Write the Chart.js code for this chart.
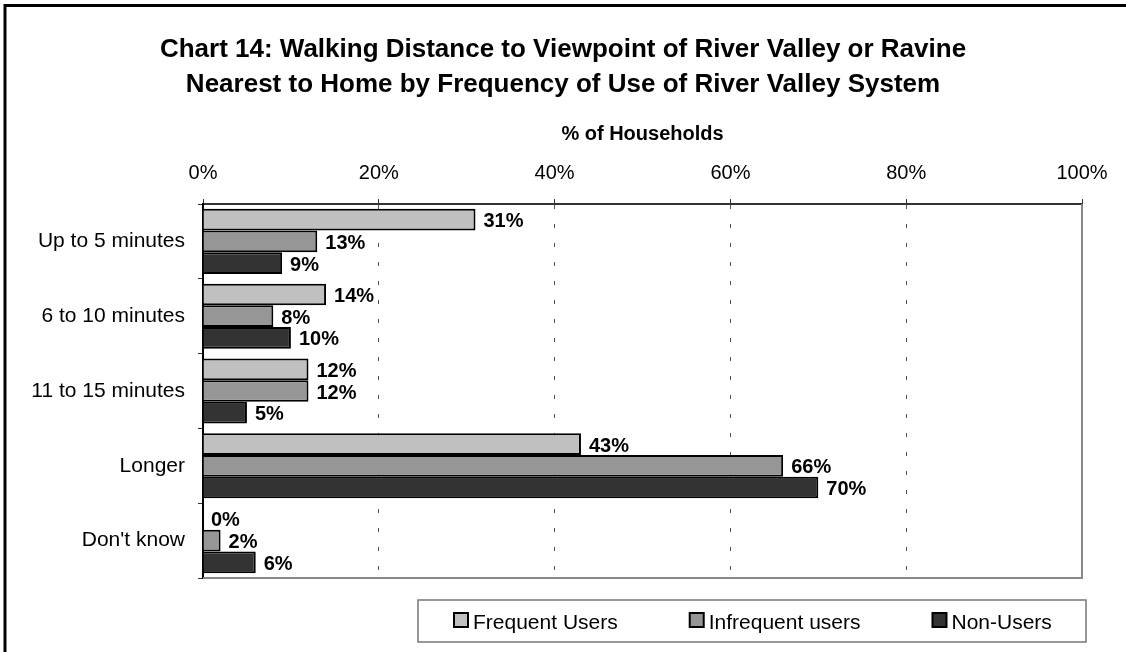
<!DOCTYPE html>
<html>
<head>
<meta charset="utf-8">
<script src="https://cdn.jsdelivr.net/npm/chart.js@4"></script>
<style>
  body { margin: 0; background: #fff; }
  #wrap { width: 1126px; height: 652px; position: relative; }
</style>
</head>
<body>
<div id="wrap"><canvas id="chart"></canvas></div>
<script>
const categories = ["Up to 5 minutes", "6 to 10 minutes", "11 to 15 minutes", "Longer", "Don't know"];
const frequentUsers = [31, 14, 12, 43, 0];
const infrequentUsers = [13, 8, 12, 66, 2];
const nonUsers = [9, 10, 5, 70, 6];
const seriesLabels = ["Frequent Users", "Infrequent users", "Non-Users"];
const titleLines = [
    "Chart 14: Walking Distance to Viewpoint of River Valley or Ravine",
    "Nearest to Home by Frequency of Use of River Valley System"
];
const axisTitle = "% of Households";

const FONT = 'Arial, "Liberation Sans", sans-serif';

// title, outer frame, plot frame
const decorPlugin = {
    id: "decor",
    beforeDraw(chart) {
        const ctx = chart.ctx;
        ctx.save();
        ctx.strokeStyle = "#000";
        ctx.lineWidth = 3;
        ctx.beginPath();
        ctx.moveTo(5, 652);
        ctx.lineTo(5, 5.5);
        ctx.lineTo(1126, 5.5);
        ctx.stroke();

        ctx.fillStyle = "#000";
        ctx.font = "bold 26px " + FONT;
        ctx.textAlign = "center";
        ctx.textBaseline = "alphabetic";
        ctx.fillText(titleLines[0], 563, 57);
        ctx.fillText(titleLines[1], 563, 92);
        ctx.restore();
    },
    beforeDatasetsDraw(chart) {
        const a = chart.chartArea;
        const ctx = chart.ctx;
        ctx.save();
        ctx.strokeStyle = "#888";
        ctx.lineWidth = 2;
        ctx.beginPath();
        ctx.moveTo(a.left, a.bottom);
        ctx.lineTo(a.right, a.bottom);
        ctx.lineTo(a.right, a.top);
        ctx.stroke();
        ctx.restore();
    }
};

// value labels to the right of each bar
const valueLabels = {
    id: "valueLabels",
    afterDatasetsDraw(chart) {
        const ctx = chart.ctx;
        ctx.save();
        ctx.fillStyle = "#000";
        ctx.font = "bold 20px " + FONT;
        ctx.textAlign = "left";
        ctx.textBaseline = "middle";
        chart.data.datasets.forEach(function (ds, i) {
            chart.getDatasetMeta(i).data.forEach(function (bar, j) {
                ctx.fillText(ds.data[j] + "%", bar.x + 8, bar.y + 2);
            });
        });
        ctx.restore();
    }
};

// boxed legend under the plot
const boxLegend = {
    id: "boxLegend",
    afterDraw(chart) {
        const ctx = chart.ctx;
        ctx.save();
        ctx.strokeStyle = "#777";
        ctx.lineWidth = 1.5;
        ctx.strokeRect(418, 600, 668, 42);
        ctx.font = "21px " + FONT;
        ctx.textBaseline = "middle";
        ctx.textAlign = "left";
        let x = 454;
        chart.data.datasets.forEach(function (ds) {
            ctx.fillStyle = ds.backgroundColor;
            ctx.fillRect(x, 613, 14, 14);
            ctx.strokeStyle = "#000";
            ctx.lineWidth = 2;
            ctx.strokeRect(x, 613, 14, 14);
            ctx.fillStyle = "#000";
            ctx.fillText(ds.label, x + 19, 623);
            x += 19 + ctx.measureText(ds.label).width + 72;
        });
        ctx.restore();
    }
};

const ctx = document.getElementById("chart").getContext("2d");
new Chart(ctx, {
    type: "bar",
    data: {
        labels: categories,
        datasets: [
            { label: seriesLabels[0], data: frequentUsers, backgroundColor: "#c0c0c0" },
            { label: seriesLabels[1], data: infrequentUsers, backgroundColor: "#969696" },
            { label: seriesLabels[2], data: nonUsers, backgroundColor: "#333333" }
        ]
    },
    options: {
        indexAxis: "y",
        responsive: true,
        maintainAspectRatio: false,
        animation: false,
        layout: { padding: { left: 20, top: 118, right: 44, bottom: 74 } },
        datasets: {
            bar: {
                borderColor: "#000",
                borderWidth: 2,
                categoryPercentage: 0.87,
                barPercentage: 1
            }
        },
        plugins: {
            legend: { display: false },
            tooltip: { enabled: false }
        },
        scales: {
            x: {
                position: "top",
                min: 0,
                max: 100,
                afterFit(scale) { scale.height = 86; },
                ticks: {
                    stepSize: 20,
                    padding: 14,
                    color: "#000",
                    font: { family: FONT, size: 20 },
                    callback: function (v) { return v + "%"; }
                },
                title: {
                    display: true,
                    text: axisTitle,
                    color: "#000",
                    font: { family: FONT, size: 20, weight: "bold" },
                    padding: { top: 4, bottom: 0 }
                },
                grid: {
                    color: function (c) {
                        return (c.tick && (c.tick.value === 0 || c.tick.value === 100)) ? "rgba(0,0,0,0)" : "#555";
                    },
                    tickColor: "#333",
                    tickLength: 5,
                    lineWidth: 1
                },
                border: { color: "#333", width: 2, dash: [4, 15] }
            },
            y: {
                afterFit(scale) { scale.width = 183; },
                ticks: {
                    padding: 13,
                    color: "#000",
                    font: { family: FONT, size: 21 }
                },
                grid: {
                    drawOnChartArea: false,
                    tickColor: "#333",
                    tickLength: 5
                },
                border: { color: "#000", width: 2 }
            }
        }
    },
    plugins: [decorPlugin, valueLabels, boxLegend]
});
</script>
</body>
</html>
